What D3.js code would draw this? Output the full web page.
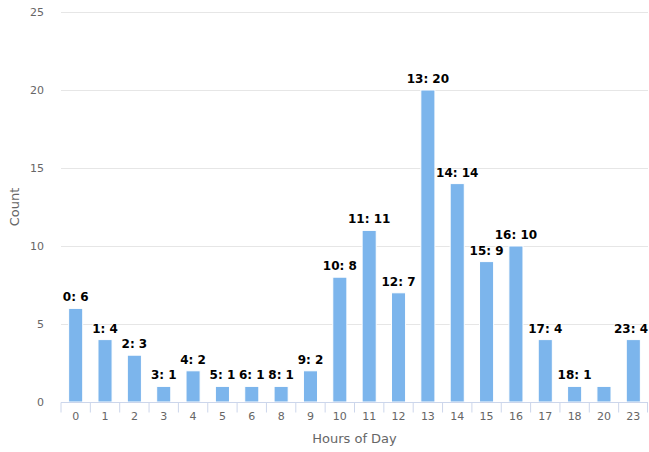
<!DOCTYPE html>
<html><head><meta charset="utf-8">
<script src="https://cdn.jsdelivr.net/npm/d3@7"></script>
<style>body{margin:0;background:#fff;font-family:"DejaVu Sans",sans-serif;}</style>
</head><body>
<svg id="c" width="649" height="452"></svg>
<script>
const categories = ["0","1","2","3","4","5","6","8","9","10","11","12","13","14","15","16","17","18","20","23"];
const counts = [6,4,3,1,2,1,1,1,2,8,11,7,20,14,9,10,4,1,1,4];
const yTicks = [0,5,10,15,20,25];

const svg = d3.select("#c");
const m = {l:61, r:648, t:12, b:402};
const x = d3.scaleBand().domain(categories).range([m.l, m.r]).paddingInner(0.52).paddingOuter(0.26);
const xb = d3.scaleBand().domain(categories).range([m.l, m.r]);
const y = d3.scaleLinear().domain([0,25]).range([m.b, m.t]);

// gridlines
svg.append("g").selectAll("line").data(yTicks.slice(1)).join("line")
  .attr("x1", m.l).attr("x2", m.r).attr("y1", d=>Math.round(y(d))+0.5).attr("y2", d=>Math.round(y(d))+0.5)
  .attr("stroke", "#e6e6e6");

// y axis labels
const ya = svg.append("g").attr("transform", `translate(${m.l-17},0)`)
  .call(d3.axisLeft(y).tickValues(yTicks).tickSize(0).tickPadding(0));
ya.select(".domain").remove();
ya.selectAll("text").attr("fill","#666").attr("font-size","11px").attr("font-family","DejaVu Sans").attr("dy","0.35em");

// bars
svg.append("g").selectAll("rect").data(counts).join("rect")
  .attr("x", (d,i)=>x(categories[i]))
  .attr("width", x.bandwidth())
  .attr("y", d=>y(d))
  .attr("height", d=>m.b - y(d))
  .attr("fill", "#7cb5ec").attr("stroke","#fff").attr("stroke-width",1);

// x axis
const xa = svg.append("g").attr("transform", `translate(0,${m.b+0.5})`)
  .call(d3.axisBottom(xb).tickSize(10).tickPadding(6));
xa.select(".domain").attr("stroke","#ccd6eb").attr("d", `M${m.l},0H${m.r}`);
xa.selectAll(".tick line").attr("stroke","#ccd6eb").attr("transform", `translate(${-xb.bandwidth()/2},0)`);
xa.selectAll(".tick text").attr("fill","#666").attr("font-size","11px").attr("font-family","DejaVu Sans").attr("y", 10).attr("dy","0.71em");
xa.append("line").attr("x1", m.r-0.5).attr("x2", m.r-0.5).attr("y1",0).attr("y2",10).attr("stroke","#ccd6eb");

// axis titles
svg.append("text").attr("x", (m.l+m.r)/2).attr("y", 443).attr("text-anchor","middle")
  .attr("fill","#666").attr("font-size","13px").text("Hours of Day");
svg.append("text").attr("transform", `translate(19,${(m.t+m.b)/2}) rotate(-90)`).attr("text-anchor","middle")
  .attr("fill","#666").attr("font-size","13px").text("Count");

// data labels
const lg = svg.append("g");
const placed = [];
counts.forEach((d,i)=>{
  const cx = x(categories[i]) + x.bandwidth()/2;
  const t = lg.append("text").attr("font-size","12px").attr("font-weight","bold")
    .attr("fill","#000").attr("stroke","#fff").attr("stroke-width",2).attr("paint-order","stroke")
    .attr("stroke-linejoin","round")
    .attr("text-anchor","middle").attr("x", cx).attr("y", y(d)-7).text(`${categories[i]}: ${d}`);
  const w = t.node().getComputedTextLength();
  let left = cx - w/2;
  if (left + w > m.r) { left = m.r - w; t.attr("x", left + w/2); }
  const box = {x0:left-1, x1:left+w+1, y0:y(d)-20, y1:y(d)-5};
  if (placed.some(b=>b.x0<box.x1 && box.x0<b.x1 && b.y0<box.y1 && box.y0<b.y1)) { t.remove(); }
  else placed.push(box);
});
</script>
</body></html>
